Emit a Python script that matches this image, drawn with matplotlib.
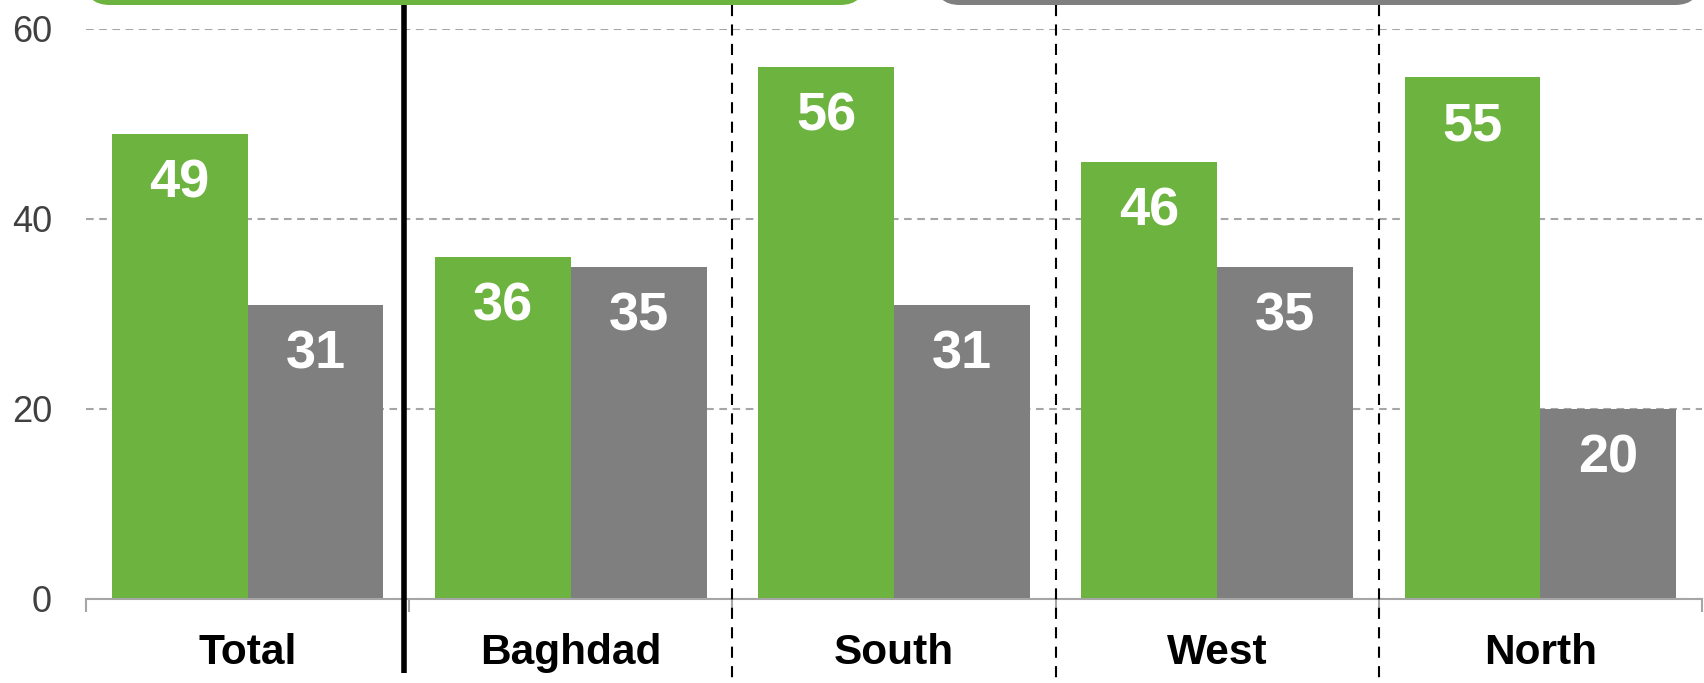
import matplotlib
matplotlib.use("Agg")
import matplotlib.pyplot as plt
import matplotlib.transforms as mtransforms
from matplotlib.patches import FancyBboxPatch
import numpy as np

# Data
categories = ["Total", "Baghdad", "South", "West", "North"]
green_values = [49, 36, 56, 46, 55]
gray_values = [31, 35, 31, 35, 20]
y_ticks = [0, 20, 40, 60]

GREEN = "#6DB33F"
GRAY = "#7F7F7F"
GRID = "#A6A6A6"

plt.rcParams["font.family"] = ["Liberation Sans", "DejaVu Sans"]
plt.rcParams["lines.scale_dashes"] = False

W, H, DPI = 1704, 683, 100
fig = plt.figure(figsize=(W / DPI, H / DPI), dpi=DPI)
ax = fig.add_axes([86 / W, 1 - 599 / H, (1702 - 86) / W, (599 - 29) / H])

x = np.arange(len(categories))
bw = 0.42
ax.bar(x - bw / 2, green_values, width=bw, color=GREEN, zorder=2)
ax.bar(x + bw / 2, gray_values, width=bw, color=GRAY, zorder=2)

# Value labels inside the top of each bar
for xi, g, s in zip(x, green_values, gray_values):
    for xpos, v in ((xi - bw / 2, g), (xi + bw / 2, s)):
        ax.annotate(str(v), (xpos, v), xytext=(0, -46), textcoords="offset points",
                    ha="center", va="baseline", color="white", fontsize=39,
                    fontweight="bold", zorder=3)

ax.set_xlim(-0.5, len(categories) - 0.5)
ax.set_ylim(0, 60)

# Y axis
ax.set_yticks(y_ticks)
ax.set_yticklabels([str(t) for t in y_ticks])
ax.tick_params(axis="y", length=0, pad=24.5, labelsize=26, labelcolor="#404040")
ax.yaxis.grid(True, color=GRID, linewidth=1.5, linestyle=(0, (5.5, 4)))
ax.set_axisbelow(True)

# X axis: boundary ticks, labels at category centres
ax.set_xticks(np.arange(len(categories) + 1) - 0.5)
ax.set_xticklabels([])
ax.tick_params(axis="x", length=9, width=1.5, color=GRID, direction="out")
for xi, name in zip(x, categories):
    ax.annotate(name, (xi, 0), xycoords=("data", "axes fraction"),
                xytext=(0, -46.5), textcoords="offset points",
                ha="center", va="baseline", fontsize=30.5, fontweight="bold",
                color="black", annotation_clip=False)

for side in ("left", "right", "top"):
    ax.spines[side].set_visible(False)
ax.spines["bottom"].set_color(GRID)
ax.spines["bottom"].set_linewidth(1.5)

# Separators between groups
blend = mtransforms.blended_transform_factory(ax.transData, fig.transFigure)
ax.plot([0.484, 0.484], [1 - 5 / H, 1 - 673 / H], transform=blend, color="black",
        linewidth=4, clip_on=False, zorder=4, solid_capstyle="butt")
for bx in (1.5, 2.5, 3.5):
    ax.plot([bx, bx], [1 - 5 / H, 0], transform=blend, color="black", linewidth=1.5,
            linestyle=(0, (8, 6)), clip_on=False, zorder=4)

# Header bars along the top edge
over = fig.add_axes([0, 0, 1, 1], zorder=5)
over.set_xlim(0, W)
over.set_ylim(H, 0)
over.axis("off")
over.patch.set_visible(False)
for left, right, col in ((85, 865, GREEN), (935, 1700, GRAY)):
    over.add_patch(FancyBboxPatch((left, -80), right - left, 85,
                                  boxstyle="round,pad=0,rounding_size=25",
                                  facecolor=col, edgecolor="none"))

fig.savefig("out.png", dpi=DPI)
